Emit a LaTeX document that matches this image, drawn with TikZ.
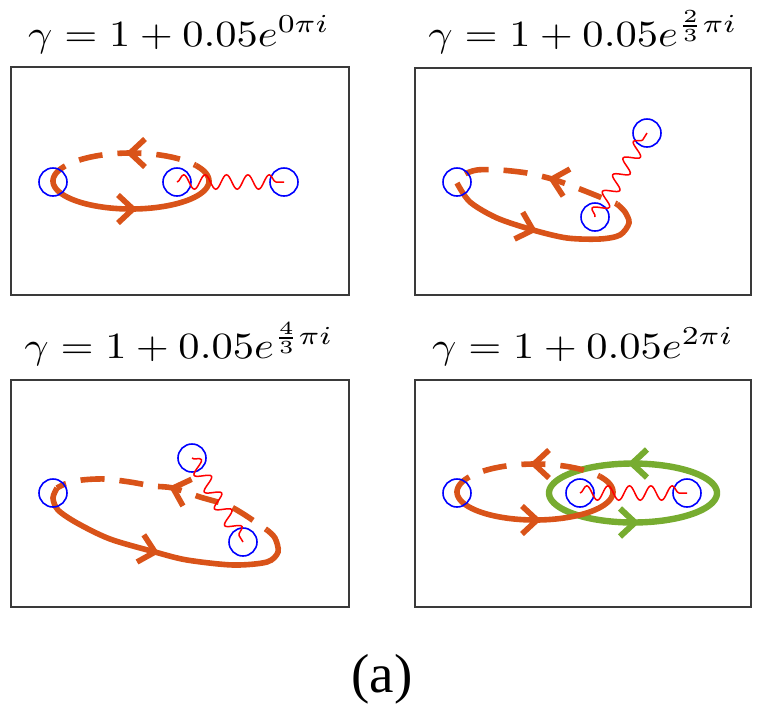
\documentclass[tikz,border=0pt]{standalone}
\usepackage{graphicx}
\usepackage{fontspec}
\newfontfamily\capfont{Liberation Serif}
\usetikzlibrary{decorations.pathmorphing}
\definecolor{mlorange}{HTML}{D95319}
\definecolor{mlgreen}{HTML}{77AC30}
\definecolor{framegray}{HTML}{3A3A3A}
\tikzset{
  frame/.style={draw=framegray, line width=1.6pt},
  osolid/.style={draw=mlorange, line width=5.6pt},
  odash/.style={draw=mlorange, line width=5.6pt, dash pattern=on 24pt off 15pt, dash phase=22pt},
  gsolid/.style={draw=mlgreen, line width=6.4pt},
  chevo/.style={draw=mlorange, line width=5.6pt, miter limit=4},
  chevg/.style={draw=mlgreen, line width=6pt, miter limit=4},
  pole/.style={circle, draw=blue, line width=1.6pt, minimum size=28pt, inner sep=0pt},
  cut/.style={draw=red, line width=1.5pt, decorate, decoration={snake, amplitude=7.2pt, segment length=#1}},
  ttl/.style={anchor=base, inner sep=0pt},
}
\newcommand\chev[4]{\draw[#4, shift={(#1,#2)}, rotate=#3] (-15pt,14pt) -- (0pt,0pt) -- (-15pt,-14pt);}
\newcommand\ttlbox[1]{\scalebox{4.25}[3.7]{$#1$}}
\begin{document}
\begin{tikzpicture}[x=1pt, y=-1pt]
\path[use as bounding box] (0,0) rectangle (763,716);

% titles
\node[ttl] (t1) at (179,46) {\ttlbox{\gamma = 1 + 0.05e^{0\pi i}}};
\node[ttl] (t2) at (583,46) {\ttlbox{\gamma = 1 + 0.05e^{\frac{2}{3}\pi i}}};
\node[ttl] (t3) at (179,358) {\ttlbox{\gamma = 1 + 0.05e^{\frac{4}{3}\pi i}}};
\node[ttl] (t4) at (583,358) {\ttlbox{\gamma = 1 + 0.05e^{2\pi i}}};
\node[ttl] (cap) at (382,692) {\capfont\fontsize{55}{60}\selectfont (a)};

% ---------- panel 1 ----------
\draw[frame] (11,67) rectangle (349,295);
\draw[osolid] plot[domain=180:-34, samples=90, variable=\t] ({131+78*cos(\t)},{181+28*sin(\t)});
\draw[odash] plot[domain=-34:-180, samples=90, variable=\t] ({131+78*cos(\t)},{181+28*sin(\t)});
\chev{133}{209}{0}{chevo}
\chev{130}{153}{180}{chevo}
\node[pole] (p1a) at (53,182) {};
\node[pole] (p1b) at (177,182) {};
\node[pole] (p1c) at (284,182) {};
\draw[cut=21.4pt] (p1b.center) -- (p1c.center);

% ---------- panel 2 ----------
\draw[frame] (415,68) rectangle (751,295);
\draw[osolid] plot[smooth] coordinates {(457,183) (470,202) (497,218) (533,230) (567,238) (600,239) (620,235) (629,223) (625,212) (617,204)};
\draw[odash] plot[smooth] coordinates {(617,204) (595,195) (572,186) (552,179) (527,173) (500,170) (477,170) (463,175) (457,183)};
\chev{533}{230}{-17}{chevo}
\chev{552}{179}{166}{chevo}
\node[pole] (p2a) at (457,182) {};
\node[pole] (p2b) at (595,217) {};
\node[pole] (p2c) at (647,133) {};
\draw[cut=19.6pt] (p2b.center) -- (p2c.center);

% ---------- panel 3 ----------
\draw[frame] (11,380) rectangle (349,607);
\draw[osolid] plot[smooth] coordinates {(57,488) (53,498) (58,510) (77,523) (110,539) (155,552) (187,560) (233,565) (267,562) (278,552) (275,538) (267,530)};
\draw[odash] plot[smooth] coordinates {(267,530) (245,515) (227,505) (200,497) (173,488) (153,486) (130,482) (105,479) (82,480) (65,484) (57,488)};
\chev{155}{552}{-14}{chevo}
\chev{173}{488}{162}{chevo}
\node[pole] (p3a) at (53,493) {};
\node[pole] (p3b) at (192,458) {};
\node[pole] (p3c) at (243,542) {};
\draw[cut=19.6pt] (p3b.center) -- (p3c.center);

% ---------- panel 4 ----------
\draw[frame] (415,380) rectangle (751,607);
\draw[gsolid] plot[domain=0:360, samples=120, variable=\t] ({633+84*cos(\t)},{493+29.5*sin(\t)});
\chev{632}{463.5}{180}{chevg}
\chev{635}{522.5}{0}{chevg}
\draw[osolid] plot[domain=180:-34, samples=90, variable=\t] ({535+78*cos(\t)},{492+28*sin(\t)});
\draw[odash] plot[domain=-34:-180, samples=90, variable=\t] ({535+78*cos(\t)},{492+28*sin(\t)});
\chev{537}{520}{0}{chevo}
\chev{534}{464}{180}{chevo}
\node[pole] (p4a) at (457,493) {};
\node[pole] (p4b) at (580,493) {};
\node[pole] (p4c) at (687,493) {};
\draw[cut=21.4pt] (p4b.center) -- (p4c.center);
\end{tikzpicture}
\end{document}
